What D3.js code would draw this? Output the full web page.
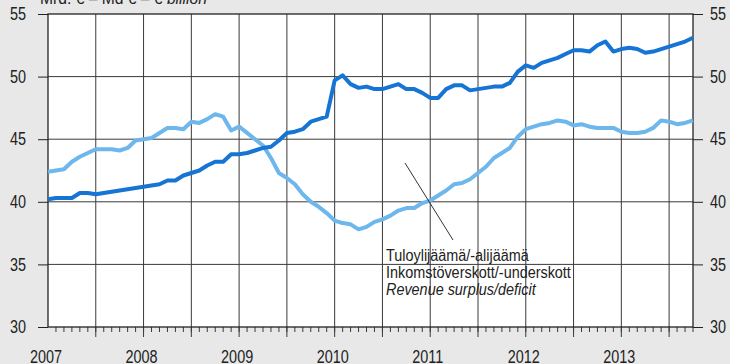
<!DOCTYPE html>
<html lang="fi">
<head>
<meta charset="utf-8">
<script src="https://d3js.org/d3.v7.min.js"></script>
<style>
  body { margin: 0; background: #e8e8e8; }
  svg { display: block; }
  text { font-family: "Liberation Sans", Arial, sans-serif; fill: #222; }
</style>
</head>
<body>
<script>
// monthly values, Jan 2007 .. Oct 2013 (bn €)
var yearLabels = ["2007", "2008", "2009", "2010", "2011", "2012", "2013"];
var yTicks = [30, 35, 40, 45, 50, 55];

var darkSeries = [
  40.2, 40.3, 40.3, 40.3, 40.7, 40.7, 40.6, 40.7, 40.8, 40.9, 41.0, 41.1,
  41.2, 41.3, 41.4, 41.7, 41.7, 42.1, 42.3, 42.5, 42.9, 43.2, 43.2, 43.8,
  43.8, 43.9, 44.1, 44.3, 44.4, 44.9, 45.5, 45.6, 45.8, 46.4, 46.6, 46.8,
  49.7, 50.1, 49.4, 49.1, 49.2, 49.0, 49.0, 49.2, 49.4, 49.0, 49.0, 48.7,
  48.3, 48.3, 49.0, 49.3, 49.3, 48.9, 49.0, 49.1, 49.2, 49.2, 49.5, 50.4,
  50.9, 50.7, 51.1, 51.3, 51.5, 51.8, 52.1, 52.1, 52.0, 52.5, 52.8, 52.0,
  52.2, 52.3, 52.2, 51.9, 52.0, 52.2, 52.4, 52.6, 52.8, 53.1
];
var lightSeries = [
  42.4, 42.5, 42.6, 43.2, 43.6, 43.9, 44.2, 44.2, 44.2, 44.1, 44.3, 44.9,
  45.0, 45.1, 45.5, 45.9, 45.9, 45.8, 46.4, 46.3, 46.6, 47.0, 46.8, 45.7,
  46.0, 45.5, 45.0, 44.5, 43.5, 42.3, 41.9, 41.4, 40.6, 40.0, 39.6, 39.1,
  38.5, 38.3, 38.2, 37.8, 38.0, 38.4, 38.6, 38.9, 39.3, 39.5, 39.5, 39.9,
  40.1, 40.5, 40.9, 41.4, 41.5, 41.8, 42.3, 42.8, 43.5, 43.9, 44.3, 45.2,
  45.8, 46.0, 46.2, 46.3, 46.5, 46.4, 46.1, 46.2, 46.0, 45.9, 45.9, 45.9,
  45.6, 45.5, 45.5, 45.6, 45.9, 46.5, 46.4, 46.2, 46.3, 46.5
];
var annotationLines = ["Tuloylijäämä/-alijäämä", "Inkomstöverskott/-underskott", "Revenue surplus/deficit"];

var width = 730, height = 364;
var plotL = 48, plotR = 693, plotT = 14, plotB = 327;

var svg = d3.select("body").append("svg")
    .attr("width", width)
    .attr("height", height);

var x = d3.scaleLinear()
    .domain([0, darkSeries.length - 1])   // month index
    .range([plotL, plotR]);
var y = d3.scaleLinear()
    .domain([30, 55])
    .range([plotB, plotT]);

// squeeze a text to mimic the condensed print face
function condense(sel, k) {
    sel.each(function() {
        var len = this.getComputedTextLength();
        d3.select(this).attr("textLength", len * k).attr("lengthAdjust", "spacingAndGlyphs");
    });
}

// plot background
svg.append("rect")
    .attr("x", plotL).attr("y", plotT)
    .attr("width", plotR - plotL).attr("height", plotB - plotT)
    .attr("fill", "#fff");

// gridlines every half year
var halfYears = d3.range(6, darkSeries.length, 6);
svg.append("g").selectAll("line")
    .data(halfYears)
    .enter().append("line")
    .attr("x1", function(d) { return x(d); })
    .attr("x2", function(d) { return x(d); })
    .attr("y1", plotT).attr("y2", plotB + 10)
    .attr("stroke", "#3a3a3a").attr("stroke-width", 1);

svg.append("g").selectAll("line")
    .data(yTicks.slice(1, -1))
    .enter().append("line")
    .attr("x1", plotL).attr("x2", plotR)
    .attr("y1", function(d) { return y(d); })
    .attr("y2", function(d) { return y(d); })
    .attr("stroke", "#3a3a3a").attr("stroke-width", 1);

// monthly minor ticks
svg.append("g").selectAll("line")
    .data(d3.range(1, darkSeries.length))
    .enter().append("line")
    .attr("x1", function(d) { return x(d); })
    .attr("x2", function(d) { return x(d); })
    .attr("y1", plotB).attr("y2", plotB + 5)
    .attr("stroke", "#3a3a3a").attr("stroke-width", 1);

// frame
svg.append("rect")
    .attr("x", plotL).attr("y", plotT)
    .attr("width", plotR - plotL).attr("height", plotB - plotT)
    .attr("fill", "none").attr("stroke", "#222").attr("stroke-width", 1.3);

// y axes on both sides
var leftAxis = d3.axisLeft(y).tickValues(yTicks).tickSize(10).tickPadding(10);
var rightAxis = d3.axisRight(y).tickValues(yTicks).tickSize(10).tickPadding(7);

var gl = svg.append("g").attr("transform", "translate(" + plotL + ",0)").call(leftAxis);
var gr = svg.append("g").attr("transform", "translate(" + plotR + ",0)").call(rightAxis);
[gl, gr].forEach(function(g) {
    g.select(".domain").remove();
    g.selectAll("line").attr("stroke", "#222");
    g.selectAll("text").style("font-size", "18px")
        .attr("fill", "#222")
        .style("font-family", "'Liberation Sans', Arial, sans-serif");
});
gl.selectAll("text").attr("text-anchor", "start").attr("x", -38);
gr.selectAll("text").attr("x", 17);
condense(gl.selectAll("text"), 0.8);
condense(gr.selectAll("text"), 0.8);

// year labels
var years = svg.append("g").selectAll("text")
    .data(yearLabels)
    .enter().append("text")
    .attr("x", function(d, i) { return x(i * 12) - 18; })
    .attr("y", 363)
    .style("font-size", "18px")
    .text(function(d) { return d; });
condense(years, 0.8);

// lines
var line = d3.line()
    .x(function(d, i) { return x(i); })
    .y(function(d) { return y(d); });

svg.append("path")
    .datum(lightSeries)
    .attr("d", line)
    .attr("fill", "none")
    .attr("stroke", "#6db7ec")
    .attr("stroke-width", 4)
    .attr("stroke-linejoin", "round");

svg.append("path")
    .datum(darkSeries)
    .attr("d", line)
    .attr("fill", "none")
    .attr("stroke", "#1574d4")
    .attr("stroke-width", 4)
    .attr("stroke-linejoin", "round");

// unit title (clipped at the top as in the print)
var title = svg.append("text")
    .attr("x", 40).attr("y", 4)
    .style("font-size", "17px");
title.append("tspan").text("Mrd. € – Md € – € ");
title.append("tspan").style("font-style", "italic").text("billion");
condense(title, 0.92);

// annotation
svg.append("line")
    .attr("x1", 405).attr("y1", 163)
    .attr("x2", 453).attr("y2", 240)
    .attr("stroke", "#333").attr("stroke-width", 1);

var notes = svg.append("g").selectAll("text")
    .data(annotationLines)
    .enter().append("text")
    .attr("x", 386)
    .attr("y", function(d, i) { return 261 + i * 17; })
    .style("font-size", "16px")
    .style("font-style", function(d, i) { return i === 2 ? "italic" : "normal"; })
    .text(function(d) { return d; });
condense(notes, 0.9);
</script>
</body>
</html>
